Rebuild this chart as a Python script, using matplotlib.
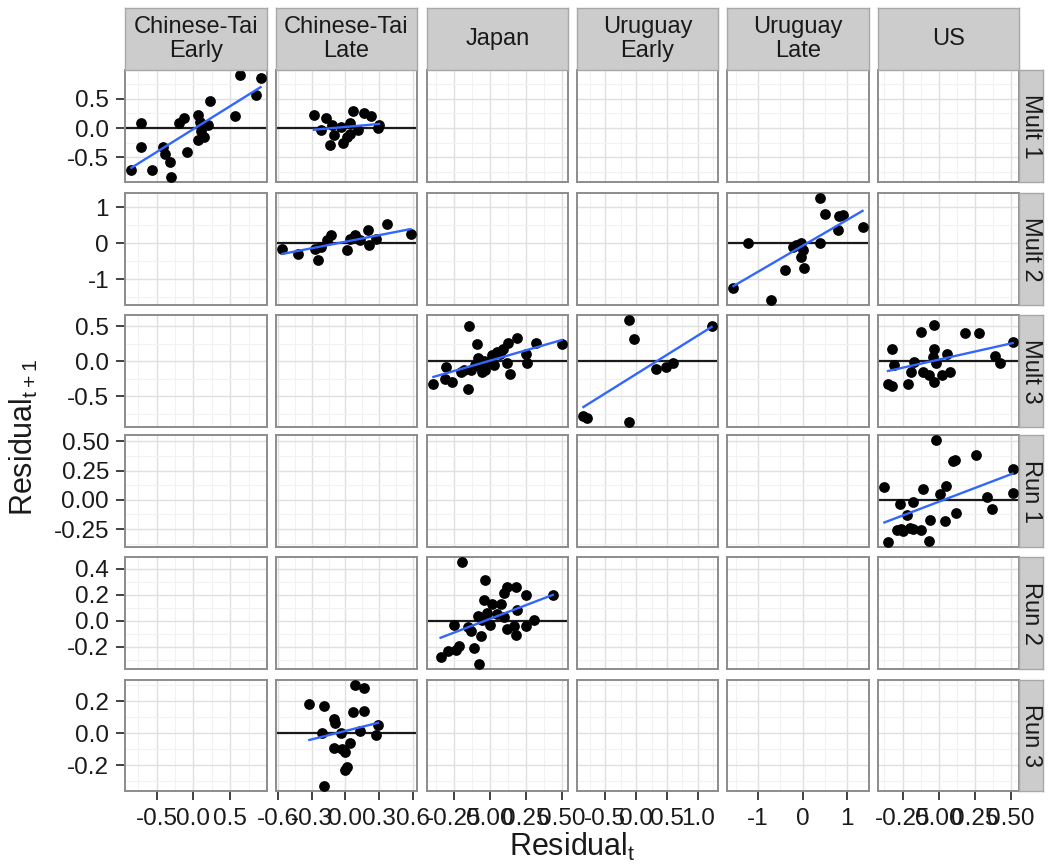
import numpy as np
import matplotlib
matplotlib.use("Agg")
import matplotlib.pyplot as plt
from matplotlib.ticker import FixedLocator, AutoMinorLocator

plt.rcParams['font.family'] = ['Liberation Sans', 'DejaVu Sans']
plt.rcParams['mathtext.fontset'] = 'custom'
plt.rcParams['mathtext.rm'] = 'Liberation Sans'
plt.rcParams['mathtext.it'] = 'Liberation Sans:italic'

# =========================================================
# Facets
# =========================================================
columns = ["Chinese-Tai\nEarly", "Chinese-Tai\nLate", "Japan",
           "Uruguay\nEarly", "Uruguay\nLate", "US"]
rows = ["Mult 1", "Mult 2", "Mult 3", "Run 1", "Run 2", "Run 3"]

# x ticks per column, y ticks per row
col_ticks = [[-0.5, 0.0, 0.5], [-0.6, -0.3, 0.0, 0.3, 0.6],
             [-0.25, 0.0, 0.25, 0.5], [-0.5, 0.0, 0.5, 1.0],
             [-1, 0, 1], [-0.25, 0.0, 0.25, 0.5]]
col_labels = [["-0.5", "0.0", "0.5"], ["-0.6", "-0.3", "0.0", "0.3", "0.6"],
              ["-0.25", "0.00", "0.25", "0.50"], ["-0.5", "0.0", "0.5", "1.0"],
              ["-1", "0", "1"], ["-0.25", "0.00", "0.25", "0.50"]]
row_ticks = [[-0.5, 0.0, 0.5], [-1, 0, 1], [-0.5, 0.0, 0.5],
             [-0.25, 0.0, 0.25, 0.5], [-0.2, 0.0, 0.2, 0.4], [-0.2, 0.0, 0.2]]
row_labels = [["-0.5", "0.0", "0.5"], ["-1", "0", "1"], ["-0.5", "0.0", "0.5"],
              ["-0.25", "0.00", "0.25", "0.50"], ["-0.2", "0.0", "0.2", "0.4"],
              ["-0.2", "0.0", "0.2"]]

# =========================================================
# Data (residual_t, residual_t+1) per non-empty panel
# =========================================================
cte_mult1_x = [-0.84, -0.71, -0.71, -0.56, -0.41, -0.38, -0.32, -0.31, -0.19, -0.13,
               -0.09, 0.06, 0.09, 0.06, 0.14, 0.20, 0.22, 0.57, 0.63, 0.85, 0.91, 0.10]
cte_mult1_y = [-0.72, 0.08, -0.32, -0.72, -0.32, -0.44, -0.58, -0.84, 0.08, 0.17,
               -0.41, 0.22, 0.11, -0.21, -0.15, 0.05, 0.47, 0.20, 0.91, 0.57, 0.86, -0.05]

ctl_mult1_x = [-0.28, -0.22, -0.17, -0.14, -0.12, -0.10, -0.04, -0.02, 0.01, 0.04,
               0.07, 0.11, 0.17, 0.23, 0.29, 0.30, 0.04]
ctl_mult1_y = [0.22, -0.03, 0.17, -0.29, 0.05, -0.12, 0.02, -0.26, -0.15, 0.08,
               0.29, -0.03, 0.25, 0.20, 0.00, 0.05, -0.10]

ctl_mult2_x = [-0.56, -0.42, -0.27, -0.24, -0.16, -0.13, 0.01, 0.04, 0.09, 0.13,
               0.20, 0.21, 0.27, 0.37, 0.58, -0.22]
ctl_mult2_y = [-0.15, -0.29, -0.15, -0.47, 0.08, 0.22, -0.19, 0.13, 0.22, 0.08,
               0.36, -0.06, 0.13, 0.55, 0.27, -0.10]

url_mult2_x = [-1.55, -1.22, -0.72, -0.40, -0.21, -0.14, -0.03, 0.01, -0.03, 0.04,
               0.38, 0.38, 0.51, 0.78, 0.82, 0.90, 1.34]
url_mult2_y = [-1.26, 0.00, -1.58, -0.75, -0.10, -0.04, 0.00, -0.19, -0.38, -0.70,
               0.00, 1.26, 0.82, 0.36, 0.76, 0.80, 0.45]

jp_mult3_x = [-0.39, -0.31, -0.30, -0.26, -0.15, -0.14, -0.18, -0.13, -0.09, -0.08,
              -0.06, -0.03, 0.00, 0.02, 0.05, 0.09, 0.12, 0.14, 0.13, 0.19,
              0.25, 0.26, 0.32, 0.50, -0.10, -0.04, 0.03, 0.07, -0.20, -0.05]
jp_mult3_y = [-0.32, -0.25, -0.08, -0.30, -0.40, 0.50, -0.13, -0.13, 0.24, 0.04,
              -0.08, -0.13, 0.01, 0.09, 0.13, 0.18, -0.03, -0.18, 0.26, 0.33,
              0.11, -0.03, 0.26, 0.24, -0.06, 0.00, -0.06, 0.10, -0.16, -0.15]

ure_mult3_x = [-0.85, -0.80, -0.11, -0.04, -0.12, 0.32, 0.49, 0.60, 1.22]
ure_mult3_y = [-0.78, -0.81, 0.59, 0.32, -0.87, -0.11, -0.08, -0.03, 0.50]

us_mult3_x = [-0.35, -0.32, -0.32, -0.31, -0.21, -0.19, -0.17, -0.12, -0.11, -0.07,
              -0.04, -0.03, -0.03, -0.03, -0.02, 0.02, 0.06, 0.08, 0.18, 0.28,
              0.39, 0.42, 0.51]
us_mult3_y = [-0.32, -0.35, 0.18, -0.06, -0.33, -0.15, -0.01, 0.42, -0.15, -0.20,
              0.06, 0.52, 0.18, -0.30, -0.03, -0.20, 0.11, -0.15, 0.40, 0.41,
              0.07, -0.03, 0.28]

us_run1_x = [-0.375, -0.35, -0.29, -0.27, -0.25, -0.22, -0.18, -0.18, -0.12, -0.11,
             -0.07, -0.06, -0.02, 0.01, 0.04, 0.05, 0.10, 0.11, 0.12, 0.26,
             0.33, 0.37, 0.51, 0.51, -0.26, -0.20]
us_run1_y = [0.11, -0.36, -0.26, -0.04, -0.27, -0.13, -0.02, -0.25, -0.26, 0.09,
             -0.35, -0.17, 0.51, 0.05, -0.18, 0.12, 0.33, 0.34, -0.11, 0.38,
             0.02, -0.08, 0.26, 0.06, -0.25, -0.24]

jp_run2_x = [-0.34, -0.29, -0.25, -0.23, -0.21, -0.19, -0.13, -0.11, -0.07, -0.06,
             -0.05, -0.04, -0.03, -0.02, 0.00, 0.02, 0.08, 0.10, 0.12, 0.12,
             0.17, 0.18, 0.19, 0.18, 0.25, 0.25, 0.31, 0.44, -0.08, -0.15,
             0.05, 0.10]
jp_run2_y = [-0.28, -0.23, -0.03, -0.22, -0.19, 0.45, -0.08, -0.21, -0.33, -0.12,
             0.01, 0.16, 0.31, 0.06, -0.03, 0.13, 0.13, 0.21, 0.26, -0.06,
             -0.04, 0.26, 0.08, -0.11, 0.20, -0.04, 0.01, 0.20, 0.04, -0.05,
             0.05, 0.03]

ctl_run3_x = [-0.32, -0.19, -0.21, -0.10, -0.09, -0.10, -0.19, -0.03, 0.00, 0.01,
              0.00, 0.04, 0.07, 0.09, 0.17, 0.17, 0.13, 0.29, 0.27, -0.04]
ctl_run3_y = [0.18, 0.17, 0.00, 0.09, 0.06, -0.09, -0.33, -0.10, -0.12, -0.21,
              -0.23, -0.06, 0.13, 0.30, 0.28, 0.14, 0.01, 0.05, -0.01, 0.00]

# (row, col) -> series
panels = {
    (0, 0): (cte_mult1_x, cte_mult1_y),
    (0, 1): (ctl_mult1_x, ctl_mult1_y),
    (1, 1): (ctl_mult2_x, ctl_mult2_y),
    (1, 4): (url_mult2_x, url_mult2_y),
    (2, 2): (jp_mult3_x, jp_mult3_y),
    (2, 3): (ure_mult3_x, ure_mult3_y),
    (2, 5): (us_mult3_x, us_mult3_y),
    (3, 5): (us_run1_x, us_run1_y),
    (4, 2): (jp_run2_x, jp_run2_y),
    (5, 1): (ctl_run3_x, ctl_run3_y),
}

# =========================================================
# Layout (pixels)
# =========================================================
W, H = 1048, 865
col_px = [(125, 267), (276, 417), (427, 568), (577, 718), (727, 869), (878, 1019)]
row_px = [(70, 182), (193, 305), (315, 427), (435, 547), (557, 669), (680, 791)]
strip_top = 8
strip_right = 1043


def px_rect(x0, x1, y0, y1):
    return [x0 / W, 1 - y1 / H, (x1 - x0) / W, (y1 - y0) / H]


def expanded(vals):
    lo, hi = min(vals), max(vals)
    pad = (hi - lo) * 0.05
    return lo - pad, hi + pad


# free scales: x trained per column, y per row
xlims = []
for c in range(len(columns)):
    vals = []
    for (r, cc), (xs, ys) in panels.items():
        if cc == c:
            vals += xs
    xlims.append(expanded(vals))
ylims = []
for r in range(len(rows)):
    vals = []
    for (rr, c), (xs, ys) in panels.items():
        if rr == r:
            vals += ys
    ylims.append(expanded(vals))

fig = plt.figure(figsize=(W / 100, H / 100), dpi=100)

BORDER = "#8C8C8C"
TEXT = "#1A1A1A"

for r in range(len(rows)):
    for c in range(len(columns)):
        x0, x1 = col_px[c]
        y0, y1 = row_px[r]
        ax = fig.add_axes(px_rect(x0, x1, y0, y1))
        ax.set_facecolor("white")
        ax.set_xlim(xlims[c])
        ax.set_ylim(ylims[r])
        ax.xaxis.set_major_locator(FixedLocator(col_ticks[c]))
        ax.yaxis.set_major_locator(FixedLocator(row_ticks[r]))
        ax.xaxis.set_minor_locator(AutoMinorLocator(2))
        ax.yaxis.set_minor_locator(AutoMinorLocator(2))
        ax.grid(True, which="major", color="#E0E0E0", linewidth=1.0)
        ax.grid(True, which="minor", color="#F2F2F2", linewidth=0.8)
        ax.set_axisbelow(True)
        for sp in ax.spines.values():
            sp.set_color(BORDER)
            sp.set_linewidth(1.4)
        ax.tick_params(which="minor", length=0)
        ax.tick_params(which="major", length=6.5, width=1.3, color="#333333",
                       labelsize=17.5, labelcolor=TEXT)
        ax.tick_params(axis="x", which="major", pad=6)
        ax.tick_params(axis="y", which="major", pad=5)
        if r == len(rows) - 1:
            ax.set_xticklabels(col_labels[c])
        else:
            ax.tick_params(axis="x", which="major", length=0, labelbottom=False)
        if c == 0:
            ax.set_yticklabels(row_labels[r])
        else:
            ax.tick_params(axis="y", which="major", length=0, labelleft=False)

        if (r, c) in panels:
            xs, ys = panels[(r, c)]
            xs = np.array(xs)
            ys = np.array(ys)
            ax.axhline(0, color="#1A1A1A", linewidth=1.6, zorder=2)
            ax.scatter(xs, ys, s=60, color="black", zorder=3, linewidths=0)
            k, b = np.polyfit(xs, ys, 1)
            xx = np.array([xs.min(), xs.max()])
            ax.plot(xx, k * xx + b, color="#3366FF", linewidth=1.7, zorder=4)

# column strips
for c, name in enumerate(columns):
    x0, x1 = col_px[c]
    sax = fig.add_axes(px_rect(x0, x1, strip_top, row_px[0][0]))
    sax.set_facecolor("#CCCCCC")
    sax.set_xticks([])
    sax.set_yticks([])
    for sp in sax.spines.values():
        sp.set_color("#A8A8A8")
        sp.set_linewidth(1.0)
    sax.text(0.5, 0.5, name, ha="center", va="center", fontsize=17,
             color=TEXT, linespacing=1.1, transform=sax.transAxes)

# row strips
for r, name in enumerate(rows):
    y0, y1 = row_px[r]
    sax = fig.add_axes(px_rect(col_px[-1][1], strip_right, y0, y1))
    sax.set_facecolor("#CCCCCC")
    sax.set_xticks([])
    sax.set_yticks([])
    for sp in sax.spines.values():
        sp.set_color("#A8A8A8")
        sp.set_linewidth(1.0)
    sax.text(0.5, 0.5, name, ha="center", va="center", fontsize=17,
             color=TEXT, rotation=-90, transform=sax.transAxes)

fig.text((col_px[0][0] + col_px[-1][1]) / 2 / W, 1 - 847 / H,
         r"Residual$_{\mathrm{t}}$", ha="center", va="center", fontsize=22, color=TEXT)
fig.text(24 / W, 1 - 437 / H, r"Residual$_{\mathrm{t+1}}$", ha="center",
         va="center", rotation=90, fontsize=22, color=TEXT)

fig.savefig("out.png", dpi=100)
